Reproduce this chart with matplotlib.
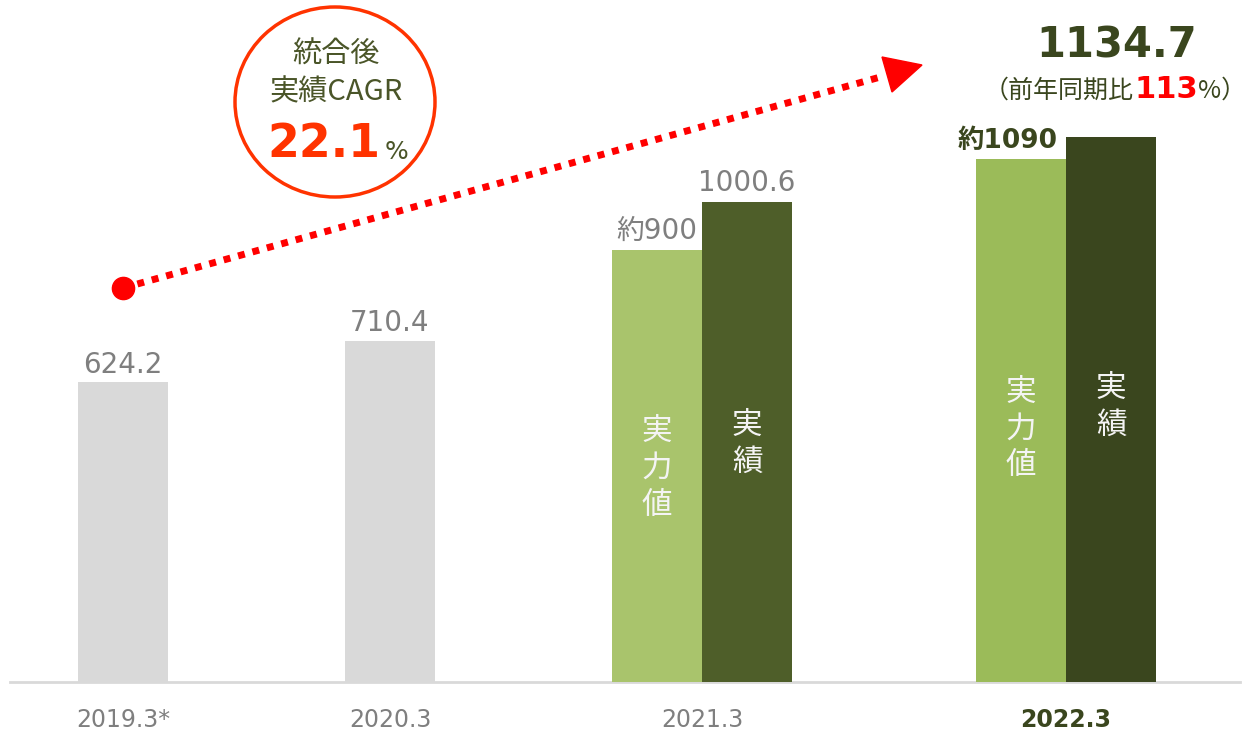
import matplotlib
matplotlib.use("Agg")
import matplotlib.pyplot as plt
from matplotlib.patches import Ellipse, Polygon
from matplotlib.transforms import Affine2D

plt.rcParams['font.family'] = ['DejaVu Sans', 'Noto Sans CJK JP']

# data
years = ['2019.3*', '2020.3', '2021.3', '2022.3']
plain_vals = [624.2, 710.4]
est_vals = [900, 1090]        # 実力値 (approx.)
act_vals = [1000.6, 1134.7]   # 実績
cagr = '22.1'
yoy = '113'

# colours
GRAY_BAR = '#d9d9d9'
GRAY_TXT = '#7f7f7f'
LIGHT = ['#a9c46c', '#9bbb59']
DARK = ['#4e5e29', '#3a461e']
OLIVE = '#3a461e'
CIRC = '#ff3300'

W, H = 1250, 732
fig = plt.figure(figsize=(W / 100, H / 100), dpi=100)
ax = fig.add_axes([0, 0, 1, 1])
ax.axis('off')

s = 0.48  # px per unit
base = 682
ax.set_xlim(0, W)
ax.set_ylim(-(H - base) / s, base / s)

# pixel transform (origin top-left)
pix = Affine2D().scale(1 / W, -1 / H).translate(0, 1) + fig.transFigure

bw = 90
xpos_plain = [123, 390]
xpos_pair = [702, 1066]

ax.bar(xpos_plain, plain_vals, width=bw, color=GRAY_BAR)
for i, c in enumerate(xpos_pair):
    ax.bar(c - bw / 2, est_vals[i], width=bw, color=LIGHT[i])
    ax.bar(c + bw / 2, act_vals[i], width=bw, color=DARK[i])

ax.plot([10, 1240], [0, 0], color='#d9d9d9', lw=2, zorder=0)

# value labels
for x, v in zip(xpos_plain, plain_vals):
    ax.annotate(f'{v:.1f}', (x, v), xytext=(0, 7), textcoords='offset points',
                ha='center', va='baseline', fontsize=20, color=GRAY_TXT)
ax.annotate(f'約{est_vals[0]}', (xpos_pair[0] - bw / 2, est_vals[0]), xytext=(0, 8),
            textcoords='offset points', ha='center', va='baseline',
            fontsize=20, color=GRAY_TXT)
ax.annotate(f'{act_vals[0]:.1f}', (xpos_pair[0] + bw / 2, act_vals[0]), xytext=(0, 8),
            textcoords='offset points', ha='center', va='baseline',
            fontsize=20, color=GRAY_TXT)
ax.annotate(f'約{est_vals[1]}', (xpos_pair[1] - bw / 2, est_vals[1]), xytext=(-10, 8),
            textcoords='offset points', ha='center', va='baseline',
            fontsize=19, color=OLIVE, fontweight='bold')

# vertical text inside bars
def vtext(cx, cy, txt, step=37):
    n = len(txt)
    for k, ch in enumerate(txt):
        fig.text(cx, cy + (k - (n - 1) / 2) * step, ch, transform=pix,
                 ha='center', va='center', fontsize=22, color='#f4f4f4',
                 family='Noto Sans CJK JP')

vtext(657, 468, '実力値')
vtext(747, 444, '実績')
vtext(1021, 429, '実力値')
vtext(1111, 407, '実績')

# x labels
for i, (x, lab) in enumerate(zip(xpos_plain + xpos_pair, years)):
    last = i == len(years) - 1
    fig.text(x, 720, lab, transform=pix, ha='center', va='center', fontsize=17,
             color=OLIVE if last else GRAY_TXT,
             fontweight='bold' if last else 'normal')

# headline value
fig.text(1117, 57, f'{act_vals[1]:.1f}', transform=pix, ha='center', va='baseline',
         fontsize=30, fontweight='bold', color=OLIVE)
t1 = fig.text(984, 98, '（前年同期比', transform=pix, ha='left', va='baseline',
              fontsize=18, color=OLIVE, family='Noto Sans CJK JP')
t2 = ax.annotate(yoy, xy=(1, 0), xycoords=t1, ha='left', va='bottom',
                 fontsize=22, fontweight='bold', color='#ff0000')
ax.annotate('%）', xy=(1, 0), xycoords=t2, ha='left', va='bottom',
            fontsize=18, color=OLIVE, family='Noto Sans CJK JP')

# CAGR circle
ax.add_patch(Ellipse((335, 102), 200, 190, transform=pix, fill=False,
                     ec=CIRC, lw=2.5))
fig.text(336, 55, '統合後', transform=pix, ha='center', va='center',
         fontsize=21, color='#4a5528', family='Noto Sans CJK JP')
fig.text(336, 92, '実績CAGR', transform=pix, ha='center', va='center',
         fontsize=21, color='#4a5528', family='Noto Sans CJK JP')
c1 = fig.text(267, 157, cagr, transform=pix, ha='left', va='baseline',
              fontsize=33, fontweight='bold', color=CIRC)
ax.annotate('%', xy=(1, 0), xycoords=c1, xytext=(3, 2), textcoords='offset points',
            ha='left', va='bottom', fontsize=18, color='#4a5528')

# dotted arrow
ax.plot([123, 884], [288, 76], transform=pix, color='#ff0000', lw=5,
        linestyle=(0, (1, 1.15)), zorder=3)
ax.add_patch(Polygon([(882, 57), (922, 65), (892, 92)], closed=True,
                     transform=pix, color='#ff0000', zorder=4))
ax.plot([123], [288], transform=pix, marker='o', ms=16, color='#ff0000', zorder=4)

fig.savefig('out.png', dpi=100)
